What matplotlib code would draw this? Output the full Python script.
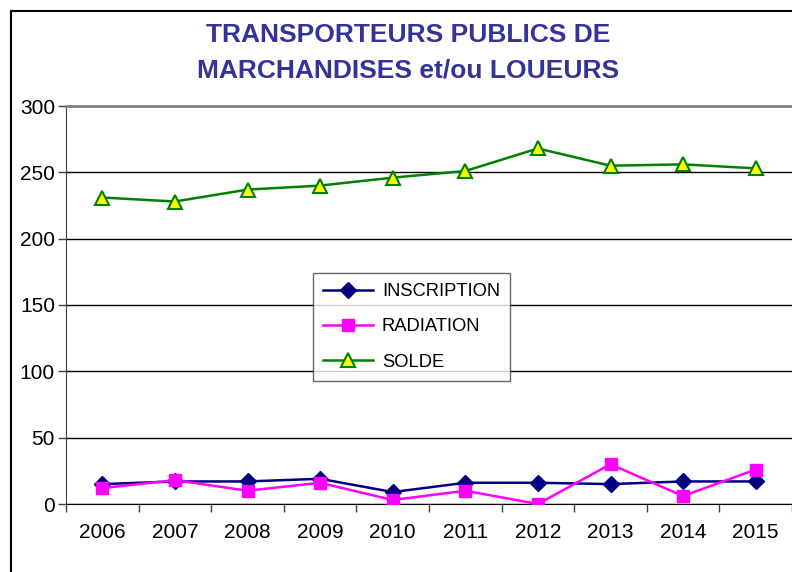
import matplotlib.pyplot as plt
from matplotlib.lines import Line2D

# Data
years = ['2006', '2007', '2008', '2009', '2010', '2011', '2012', '2013', '2014', '2015']
inscription = [15, 17, 17, 19, 9, 16, 16, 15, 17, 17]
radiation = [12, 18, 10, 16, 3, 10, 0, 30, 6, 26]
solde = [231, 228, 237, 240, 246, 251, 268, 255, 256, 253]

plt.rcParams['font.family'] = ['Liberation Sans', 'DejaVu Sans']

fig = plt.figure(figsize=(7.92, 5.72), dpi=100)
W, H = 792, 572
ax = fig.add_axes([66 / W, 1 - 504 / H, (792 - 66) / W, (504 - 106) / H])

x = list(range(len(years)))
ax.plot(x, inscription, color='#000080', lw=1.8, marker='D', ms=8,
        mfc='#000080', mec='#000080', label='INSCRIPTION', zorder=3)
ax.plot(x, radiation, color='#FF00FF', lw=1.8, marker='s', ms=8,
        mfc='#FF00FF', mec='#FF00FF', label='RADIATION', zorder=3)
ax.plot(x, solde, color='#008000', lw=1.8, marker='^', ms=10,
        mfc='#FFFF00', mec='#008000', mew=1.5, label='SOLDE', zorder=3)

ax.set_xlim(-0.5, len(years) - 0.5)
ax.set_ylim(0, 300)
ax.set_yticks(range(0, 301, 50))
ax.yaxis.grid(True, color='black', lw=1)
ax.set_axisbelow(True)

# category labels centred, tick marks between categories
ax.set_xticks(x)
ax.set_xticklabels(years)
ax.set_xticks([i - 0.5 for i in range(len(years) + 1)], minor=True)
ax.tick_params(axis='x', which='major', length=0, pad=14, labelsize=15)
ax.tick_params(axis='x', which='minor', length=6, width=1, color='#404040')
ax.tick_params(axis='y', length=6, width=1, color='#404040', pad=2, labelsize=15)

ax.spines['top'].set_color('#808080')
ax.spines['top'].set_linewidth(2)
ax.spines['right'].set_visible(False)
ax.spines['left'].set_color('#404040')
ax.spines['bottom'].set_color('black')

leg = ax.legend(loc='upper left', bbox_to_anchor=((313 - 66) / 726, (504 - 273) / 398),
                borderaxespad=0, fontsize=13.2, frameon=True, fancybox=False,
                handlelength=2.7, borderpad=0.55, labelspacing=1.0, handletextpad=0.5)
leg.get_frame().set_edgecolor('#404040')
leg.get_frame().set_linewidth(1)

fig.text(408 / W, 1 - 35 / H, 'TRANSPORTEURS PUBLICS DE', ha='center', va='center',
         fontsize=19, fontweight='bold', color='#333399')
fig.text(408 / W, 1 - 70 / H, 'MARCHANDISES et/ou LOUEURS', ha='center', va='center',
         fontsize=19, fontweight='bold', color='#333399')

# outer chart frame, cut off on the right and bottom
fig.add_artist(Line2D([11 / W, 11 / W], [1 - 11 / H, 0], transform=fig.transFigure,
                      color='black', lw=1.5))
fig.add_artist(Line2D([11 / W, 1], [1 - 11 / H, 1 - 11 / H], transform=fig.transFigure,
                      color='black', lw=1.5))

fig.savefig('out.png', dpi=100)
